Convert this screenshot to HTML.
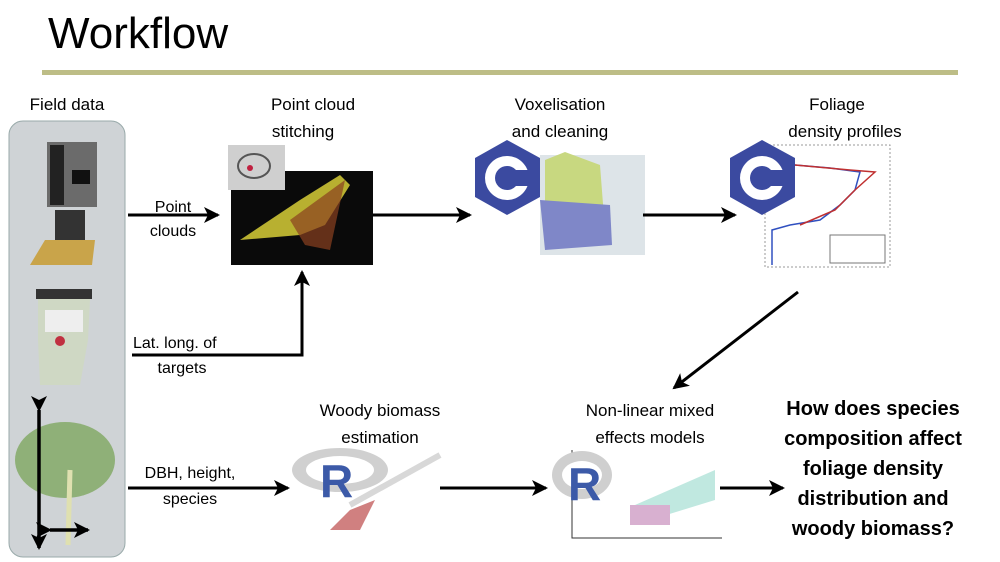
<!DOCTYPE html>
<html><head><meta charset="utf-8"><style>
html,body{margin:0;padding:0;background:#fff;}
svg{display:block;font-family:"Liberation Sans",sans-serif;}
</style></head><body>
<svg width="1000" height="562" viewBox="0 0 1000 562" xmlns="http://www.w3.org/2000/svg">
<defs>
<marker id="ah" markerWidth="10" markerHeight="10" refX="8" refY="5" orient="auto" markerUnits="userSpaceOnUse"><path d="M0,0 L10,5 L0,10 L3,5 Z" fill="#000"/></marker>
<marker id="ah2" markerWidth="16" markerHeight="16" refX="14" refY="8" orient="auto" markerUnits="userSpaceOnUse"><path d="M0,0 L16,8 L0,16 L4,8 Z" fill="#000"/></marker>
</defs>
<text x="48" y="48" font-size="44" fill="#000">Workflow</text>
<rect x="42" y="70" width="916" height="5" fill="#bdbd86"/>

<text x="67" y="110" font-size="17" text-anchor="middle">Field data</text>
<rect x="9" y="121" width="116" height="436" rx="14" fill="#cfd3d6" stroke="#9aa" stroke-width="1"/>
<rect x="47" y="142" width="50" height="65" fill="#6b6b6b"/>
<rect x="50" y="145" width="14" height="60" fill="#222"/>
<rect x="72" y="170" width="18" height="14" fill="#111"/>
<rect x="55" y="210" width="30" height="30" fill="#333"/>
<path d="M30,265 L45,240 L95,240 L92,265 Z" fill="#c9a44a"/>
<rect x="36" y="289" width="56" height="10" fill="#333"/>
<path d="M38,299 L90,299 L88,340 L80,385 L40,385 L38,340 Z" fill="#cfd8c4"/>
<rect x="45" y="310" width="38" height="22" fill="#eee"/>
<circle cx="60" cy="341" r="5" fill="#c03040"/>
<ellipse cx="65" cy="460" rx="50" ry="38" fill="#8fb078"/>
<line x1="70" y1="470" x2="68" y2="545" stroke="#dfe0b0" stroke-width="5"/>
<line x1="39" y1="410" x2="39" y2="548" stroke="#000" stroke-width="3.5" marker-start="url(#ah2)" marker-end="url(#ah2)"/>
<line x1="50" y1="530" x2="88" y2="530" stroke="#000" stroke-width="3.5" marker-start="url(#ah2)" marker-end="url(#ah2)"/>

<line x1="128" y1="215" x2="218" y2="215" stroke="#000" stroke-width="3" marker-end="url(#ah2)"/>
<text x="173" y="212" font-size="16" text-anchor="middle">Point</text>
<text x="173" y="236" font-size="16" text-anchor="middle">clouds</text>

<text x="313" y="110" font-size="17" text-anchor="middle">Point cloud</text>
<text x="303" y="137" font-size="17" text-anchor="middle">stitching</text>
<rect x="231" y="171" width="142" height="94" fill="#0a0a0a"/>
<path d="M240,240 L300,200 L340,175 L350,185 L325,225 L300,235 Z" fill="#b8b030"/>
<path d="M290,220 L345,180 L330,250 L305,245 Z" fill="#8a4020" opacity="0.7"/>
<rect x="228" y="145" width="57" height="45" fill="#cfcfcf"/>
<ellipse cx="254" cy="166" rx="16" ry="12" fill="none" stroke="#555" stroke-width="2"/>
<circle cx="250" cy="168" r="3" fill="#c02040"/>

<line x1="373" y1="215" x2="470" y2="215" stroke="#000" stroke-width="3" marker-end="url(#ah2)"/>
<polyline points="132,355 302,355 302,272" fill="none" stroke="#000" stroke-width="3" marker-end="url(#ah2)"/>
<text x="133" y="348" font-size="16">Lat. long. of</text>
<text x="182" y="373" font-size="16" text-anchor="middle">targets</text>

<text x="560" y="110" font-size="17" text-anchor="middle">Voxelisation</text>
<text x="560" y="137" font-size="17" text-anchor="middle">and cleaning</text>
<rect x="540" y="155" width="105" height="100" fill="#dde4e8"/>
<path d="M545,160 L565,152 L600,165 L605,230 L560,235 L545,210 Z" fill="#c8d880"/>
<path d="M540,200 L610,205 L612,245 L545,250 Z" fill="#7f87c8"/>
<polygon points="507,140 540,158 540,197 507,215 475,197 475,158" fill="#3b4aa0"/>
<circle cx="507" cy="178" r="22" fill="#fff"/><circle cx="507" cy="178" r="12" fill="#3b4aa0"/>
<rect x="515" y="170" width="20" height="16" fill="#3b4aa0"/>

<line x1="643" y1="215" x2="735" y2="215" stroke="#000" stroke-width="3" marker-end="url(#ah2)"/>

<text x="837" y="110" font-size="17" text-anchor="middle">Foliage</text>
<text x="845" y="137" font-size="17" text-anchor="middle">density profiles</text>
<rect x="765" y="145" width="125" height="122" fill="#fff" stroke="#999" stroke-width="1" stroke-dasharray="2,2"/>
<polyline points="795,165 830,168 860,172 855,190 840,205 820,220 790,225 772,230 772,265" fill="none" stroke="#3050c0" stroke-width="1.5"/>
<polyline points="795,165 850,170 875,172 855,190 835,210 800,225" fill="none" stroke="#c03030" stroke-width="1.5"/>
<rect x="830" y="235" width="55" height="28" fill="#fff" stroke="#777" stroke-width="1"/>
<polygon points="762,140 795,158 795,197 762,215 730,197 730,158" fill="#3b4aa0"/>
<circle cx="762" cy="178" r="22" fill="#fff"/><circle cx="762" cy="178" r="12" fill="#3b4aa0"/>
<rect x="770" y="170" width="20" height="16" fill="#3b4aa0"/>

<line x1="798" y1="292" x2="674" y2="388" stroke="#000" stroke-width="3" marker-end="url(#ah2)"/>

<line x1="128" y1="488" x2="288" y2="488" stroke="#000" stroke-width="3" marker-end="url(#ah2)"/>
<text x="190" y="478" font-size="16" text-anchor="middle">DBH, height,</text>
<text x="190" y="504" font-size="16" text-anchor="middle">species</text>

<text x="380" y="416" font-size="17" text-anchor="middle">Woody biomass</text>
<text x="380" y="443" font-size="17" text-anchor="middle">estimation</text>
<ellipse cx="340" cy="470" rx="48" ry="22" fill="#d0d0d0"/>
<ellipse cx="340" cy="470" rx="34" ry="14" fill="#fff"/>
<text x="320" y="497" font-size="46" font-weight="bold" fill="#3c5aa8">R</text>
<path d="M330,530 L350,510 L375,500 L360,530 Z" fill="#d08080"/>
<line x1="350" y1="505" x2="440" y2="455" stroke="#d8d8d8" stroke-width="6"/>

<line x1="440" y1="488" x2="546" y2="488" stroke="#000" stroke-width="3" marker-end="url(#ah2)"/>

<text x="650" y="416" font-size="17" text-anchor="middle">Non-linear mixed</text>
<text x="650" y="443" font-size="17" text-anchor="middle">effects models</text>
<polyline points="572,450 572,538 722,538" fill="none" stroke="#333" stroke-width="1"/>
<path d="M635,505 L715,470 L715,500 L650,520 Z" fill="#c0e8e0"/>
<rect x="630" y="505" width="40" height="20" fill="#d8b0d0"/>
<ellipse cx="582" cy="475" rx="30" ry="24" fill="#cfcfcf"/>
<ellipse cx="582" cy="475" rx="20" ry="14" fill="#fff"/>
<text x="568" y="500" font-size="46" font-weight="bold" fill="#3c5aa8">R</text>

<line x1="720" y1="488" x2="783" y2="488" stroke="#000" stroke-width="3" marker-end="url(#ah2)"/>

<g font-size="20" font-weight="bold" text-anchor="middle">
<text x="873" y="415">How does species</text>
<text x="873" y="445">composition affect</text>
<text x="873" y="475">foliage density</text>
<text x="873" y="505">distribution and</text>
<text x="873" y="535">woody biomass?</text>
</g>
</svg>
</body></html>
